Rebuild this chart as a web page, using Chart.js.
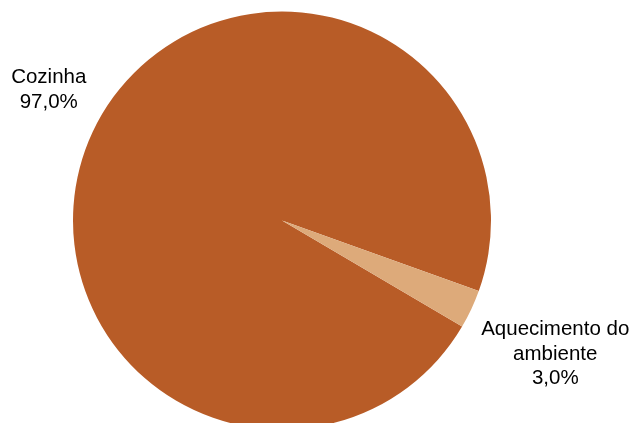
<!DOCTYPE html>
<html>
<head>
<meta charset="utf-8">
<script src="https://cdn.jsdelivr.net/npm/chart.js@4/dist/chart.umd.min.js"></script>
<style>
  html, body { margin: 0; padding: 0; background: #fff; overflow: hidden; }
</style>
</head>
<body>
<canvas id="myChart" width="636" height="423"></canvas>
<script>
// data
const categories = [["Cozinha"], ["Aquecimento do", "ambiente"]];
const shares = [97.0, 3.0];
const sliceColors = ["#B85C27", "#DDAA7A"];

function formatPercent(v)
{
    return v.toFixed(1).replace(".", ",") + "%";
}

// draws the outside labels, placed from each arc's edge point
const outsideLabels = {
    id: "outsideLabels",
    afterDatasetsDraw(chart, args, opts)
    {
        const ctx = chart.ctx;
        const meta = chart.getDatasetMeta(0);
        ctx.save();
        ctx.font = "20.5px 'Liberation Sans', Arial, sans-serif";
        ctx.fillStyle = "#000";
        ctx.textAlign = "center";
        ctx.textBaseline = "middle";
        meta.data.forEach((arc, i) =>
        {
            const mid = (arc.startAngle + arc.endAngle) / 2;
            const ex = arc.x + Math.cos(mid) * arc.outerRadius;
            const ey = arc.y + Math.sin(mid) * arc.outerRadius;
            const cx = ex + opts.shift[i][0];
            const cy = ey + opts.shift[i][1];
            const lines = categories[i].concat([formatPercent(shares[i])]);
            const lh = 24.5;
            const top = cy - (lines.length - 1) * lh / 2;
            lines.forEach((t, k) => ctx.fillText(t, cx, top + k * lh));
        });
        ctx.restore();
    }
};

const ctx = document.getElementById("myChart");
const pie = new Chart(ctx,
{
    type: "pie",
    data: {
        labels: categories.map(c => c.join(" ")),
        datasets: [{
            data: shares,
            backgroundColor: sliceColors,
            borderWidth: 0,
            radius: 209
        }]
    },
    options: {
        responsive: false,
        animation: false,
        rotation: 120.5,
        layout: { padding: { left: 0, right: 72, top: 18, bottom: 0 } },
        plugins: {
            legend: { display: false },
            tooltip: { enabled: false },
            outsideLabels: { shift: [[-44, -42], [84, 45]] }
        }
    },
    plugins: [outsideLabels]
});
</script>
</body>
</html>
